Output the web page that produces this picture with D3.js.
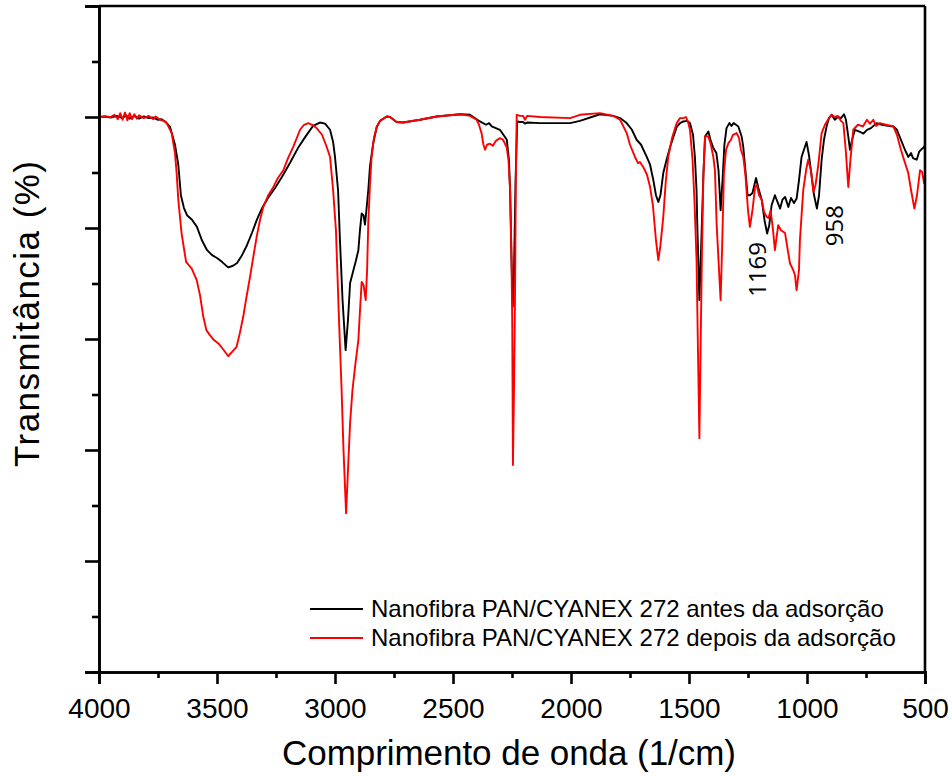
<!DOCTYPE html>
<html>
<head>
<meta charset="utf-8">
<script src="https://cdn.jsdelivr.net/npm/d3@7"></script>
<style>
  html, body { margin: 0; padding: 0; background: #fff; }
  svg { display: block; }
</style>
</head>
<body>
<svg id="chart" width="952" height="778"></svg>
<script>
// FTIR spectra: wavenumber (1/cm) vs transmittance (%)
const antes = [
[4000,100.0],[3975,100.1],[3950,99.9],[3925,100.2],[3900,99.8],[3885,100.3],[3870,99.7],[3850,100.2],[3830,99.7],[3810,100.1],[3790,99.8],[3770,99.9],[3750,99.5],[3735,99.6],[3720,99.2],[3699,98.2],[3678,95.0],[3664,91.4],[3653,85.9],[3640,83.6],[3627,82.3],[3606,81.5],[3585,80.2],[3564,77.8],[3542,76.0],[3521,75.1],[3500,74.6],[3479,73.9],[3453,72.9],[3432,73.2],[3415,73.7],[3394,75.1],[3373,76.9],[3352,79.1],[3331,81.5],[3309,83.6],[3284,85.4],[3254,87.2],[3225,89.2],[3191,91.7],[3157,94.4],[3123,96.6],[3093,98.4],[3064,99.0],[3042,98.8],[3021,97.7],[3008,95.5],[3000,92.8],[2987,86.8],[2979,77.8],[2968,67.0],[2955,58.0],[2945,63.4],[2936,70.1],[2922,72.4],[2911,74.2],[2901,76.0],[2894,79.7],[2887,82.6],[2879,82.3],[2873,80.6],[2867,83.2],[2859,86.8],[2852,91.0],[2838,95.3],[2823,98.2],[2809,99.3],[2781,100.1],[2767,100.0],[2739,99.1],[2711,99.0],[2640,99.5],[2569,100.1],[2470,100.5],[2428,100.4],[2386,99.2],[2360,98.6],[2347,98.9],[2336,98.3],[2301,97.7],[2272,95.9],[2263,92.3],[2258,86.8],[2252,74.2],[2247,65.8],[2242,70.6],[2235,88.6],[2228,99.2],[2216,99.1],[2203,99.1],[2195,98.8],[2186,99.0],[2131,98.9],[2004,98.9],[1962,99.3],[1877,100.5],[1821,100.2],[1792,99.8],[1764,98.9],[1742,97.7],[1722,95.9],[1703,95.0],[1679,92.8],[1665,91.4],[1651,88.6],[1640,85.9],[1630,84.7],[1621,85.9],[1609,89.9],[1595,92.3],[1580,94.6],[1568,96.2],[1552,98.2],[1538,98.9],[1524,99.2],[1508,99.3],[1496,98.9],[1483,96.8],[1475,92.8],[1468,86.8],[1465,80.8],[1460,73.3],[1456,67.0],[1451,73.3],[1445,81.4],[1439,89.6],[1432,96.5],[1418,97.4],[1409,95.9],[1397,94.4],[1384,93.5],[1375,90.4],[1366,83.2],[1358,88.6],[1350,95.0],[1341,98.0],[1329,98.9],[1320,98.4],[1311,98.9],[1301,98.6],[1291,98.3],[1277,96.5],[1270,94.6],[1261,90.4],[1252,85.9],[1242,85.9],[1231,86.3],[1216,89.0],[1206,87.2],[1192,85.1],[1180,81.4],[1169,79.0],[1160,80.5],[1150,84.1],[1136,85.9],[1125,84.7],[1114,83.5],[1104,85.1],[1093,85.6],[1079,83.8],[1068,85.4],[1055,84.5],[1044,85.3],[1034,88.6],[1023,92.8],[1013,94.1],[1002,95.5],[992,93.2],[980,89.2],[970,85.9],[958,83.5],[949,85.9],[938,92.3],[928,95.9],[917,98.3],[907,99.8],[896,100.4],[882,99.5],[869,100.0],[856,99.8],[843,100.5],[835,99.5],[826,96.8],[818,94.1],[809,95.9],[797,97.7],[775,97.3],[761,97.0],[746,97.7],[729,98.0],[705,98.9],[682,98.6],[657,98.4],[634,98.3],[619,97.7],[602,95.9],[585,94.1],[571,92.8],[559,93.5],[551,92.6],[535,92.3],[525,93.7],[517,94.1],[504,94.6],[500,95.0]
];

const depois = [
[4000,100.0],[3975,100.1],[3950,100.0],[3935,100.4],[3920,99.6],[3910,100.7],[3900,99.5],[3890,100.8],[3880,99.4],[3870,100.7],[3860,99.6],[3850,100.5],[3840,99.7],[3830,100.3],[3810,99.8],[3790,100.2],[3770,99.6],[3760,100.1],[3741,99.5],[3725,99.3],[3713,98.9],[3692,97.1],[3678,93.5],[3671,89.9],[3664,85.1],[3650,79.0],[3631,73.9],[3607,72.7],[3586,70.6],[3572,67.9],[3558,64.0],[3545,61.6],[3530,60.7],[3513,59.8],[3494,59.2],[3475,58.2],[3452,56.9],[3436,57.7],[3417,58.6],[3403,61.1],[3389,64.0],[3375,67.6],[3360,71.2],[3345,75.1],[3332,78.4],[3318,81.4],[3304,83.8],[3284,85.8],[3261,87.4],[3242,89.0],[3219,90.4],[3199,92.6],[3177,94.6],[3148,97.7],[3131,98.6],[3113,98.9],[3097,98.6],[3078,98.0],[3055,96.8],[3035,94.6],[3021,92.8],[3008,86.8],[2996,79.6],[2983,63.4],[2972,50.8],[2964,40.0],[2953,28.6],[2945,36.4],[2936,44.9],[2926,50.8],[2915,55.0],[2901,59.8],[2894,65.2],[2887,70.3],[2879,69.7],[2870,67.0],[2864,72.4],[2859,80.9],[2852,87.7],[2845,92.8],[2835,96.2],[2823,98.3],[2809,99.3],[2781,100.1],[2767,100.0],[2754,99.6],[2739,99.1],[2711,99.0],[2640,99.5],[2569,100.1],[2470,100.5],[2428,100.2],[2400,99.5],[2390,98.6],[2379,97.1],[2371,95.0],[2364,94.1],[2356,95.0],[2343,95.2],[2331,94.8],[2318,95.7],[2301,96.2],[2288,95.9],[2273,94.6],[2265,92.3],[2258,86.8],[2252,74.2],[2249,62.9],[2246,37.3],[2241,52.6],[2237,68.8],[2234,86.8],[2230,100.4],[2216,100.2],[2203,100.2],[2195,99.5],[2186,100.2],[2131,100.0],[2004,99.8],[1962,100.4],[1877,100.7],[1821,100.2],[1792,99.5],[1764,97.1],[1750,95.0],[1729,92.8],[1716,91.7],[1708,91.9],[1694,91.0],[1678,89.6],[1665,87.4],[1653,84.1],[1640,77.8],[1630,74.2],[1621,76.9],[1609,82.0],[1598,88.6],[1588,92.8],[1572,96.2],[1552,98.9],[1538,99.8],[1524,99.8],[1513,100.0],[1504,99.1],[1496,97.7],[1485,92.3],[1477,85.1],[1468,74.2],[1462,58.0],[1456,42.1],[1451,58.0],[1445,76.0],[1439,89.6],[1432,96.5],[1418,96.5],[1407,95.0],[1397,92.8],[1390,90.4],[1383,80.8],[1375,74.2],[1366,67.0],[1360,76.0],[1352,89.9],[1343,94.1],[1333,95.3],[1322,95.9],[1314,96.8],[1298,97.1],[1288,96.2],[1280,94.1],[1270,92.8],[1261,89.6],[1250,83.2],[1242,80.2],[1231,83.2],[1220,87.4],[1213,87.7],[1203,85.9],[1192,85.1],[1182,82.9],[1171,82.0],[1163,81.8],[1154,83.2],[1144,79.6],[1136,76.0],[1122,80.5],[1110,79.6],[1093,79.1],[1085,76.9],[1072,73.6],[1058,72.4],[1051,71.5],[1044,68.8],[1034,72.4],[1030,77.8],[1016,86.8],[1004,90.4],[995,92.3],[983,90.4],[973,86.5],[964,87.7],[952,91.4],[938,97.1],[924,98.6],[911,99.5],[896,100.4],[882,100.0],[869,100.2],[856,99.3],[846,98.9],[836,94.1],[825,87.4],[816,92.3],[804,97.7],[784,98.6],[763,98.3],[746,99.5],[733,98.8],[719,99.5],[708,98.4],[691,98.9],[665,98.6],[634,98.3],[619,96.8],[602,94.1],[589,92.3],[571,89.9],[559,86.8],[545,83.5],[534,85.9],[521,90.4],[512,90.1],[504,88.1],[500,88.6]
];

const seriesNames = [
  "Nanofibra PAN/CYANEX 272 antes da adsorção",
  "Nanofibra PAN/CYANEX 272 depois da adsorção"
];
const seriesColors = ["#000000", "#ff0000"];

const xMajorTicks = [4000, 3500, 3000, 2500, 2000, 1500, 1000, 500];
const xMinorTicks = [3750, 3250, 2750, 2250, 1750, 1250, 750];
const yMajorTicks = [0, 20, 40, 60, 80, 100, 120];
const yMinorTicks = [10, 30, 50, 70, 90, 110];

// band positions marked on the "antes" spectrum
const peakBands = [1169, 958];

const margin = { top: 6, right: 27, bottom: 106, left: 99 };
const W = 952, H = 778;
const iw = W - margin.left - margin.right;
const ih = H - margin.top - margin.bottom;

const svg = d3.select("#chart");
const g = svg.append("g").attr("transform", `translate(${margin.left},${margin.top})`);

const x = d3.scaleLinear().domain([4000, 500]).range([0, iw]);
const y = d3.scaleLinear().domain([0, 120]).range([ih, 0]);

const line = d3.line().x(d => x(d[0])).y(d => y(d[1]));

const arial = "'Liberation Sans', Arial, sans-serif";
const labelFont = "'Open Sans', 'Noto Sans', sans-serif";

// spectra
[antes, depois].forEach((data, i) => {
  g.append("path")
    .datum(data)
    .attr("fill", "none")
    .attr("stroke", seriesColors[i])
    .attr("stroke-width", 1.9)
    .attr("stroke-linejoin", "round")
    .attr("d", line);
});

// frame (top and right)
g.append("line").attr("x1", 0).attr("x2", iw).attr("y1", 0).attr("y2", 0)
  .attr("stroke", "#000").attr("stroke-width", 2.6);
g.append("line").attr("x1", iw).attr("x2", iw).attr("y1", 0).attr("y2", ih)
  .attr("stroke", "#000").attr("stroke-width", 2.6);

// x axis
const xAxisMajor = g.append("g").attr("transform", `translate(0,${ih})`)
  .call(d3.axisBottom(x).tickValues(xMajorTicks).tickSize(12).tickPadding(14).tickFormat(d3.format("d")));
const xAxisMinor = g.append("g").attr("transform", `translate(0,${ih})`)
  .call(d3.axisBottom(x).tickValues(xMinorTicks).tickSize(6).tickFormat(""));

// y axis
const yAxisMajor = g.append("g")
  .call(d3.axisLeft(y).tickValues(yMajorTicks).tickSize(14).tickFormat(""));
const yAxisMinor = g.append("g")
  .call(d3.axisLeft(y).tickValues(yMinorTicks).tickSize(7).tickFormat(""));

[xAxisMajor, xAxisMinor, yAxisMajor, yAxisMinor].forEach(a => {
  a.select(".domain").attr("stroke", "#000").attr("stroke-width", 2.6);
  a.selectAll(".tick line").attr("stroke", "#000").attr("stroke-width", 2.6);
});
xAxisMajor.selectAll(".tick text")
  .attr("font-family", arial).attr("font-size", 28).attr("fill", "#000");

// axis titles
svg.append("text")
  .attr("x", 509).attr("y", 765)
  .attr("text-anchor", "middle")
  .attr("font-family", arial).attr("font-size", 35).attr("fill", "#000")
  .attr("textLength", 454).attr("lengthAdjust", "spacing")
  .text("Comprimento de onda (1/cm)");

svg.append("text")
  .attr("transform", "translate(39,314) rotate(-90)")
  .attr("text-anchor", "middle")
  .attr("font-family", arial).attr("font-size", 35).attr("fill", "#000")
  .attr("textLength", 306).attr("lengthAdjust", "spacing")
  .text("Transmitância (%)");

// band annotations, placed beside the minimum of the "antes" curve
const labelOffsets = [[-10, 36], [17, 17]];
peakBands.forEach((wn, i) => {
  const pt = antes.find(d => d[0] === wn);
  const [dx, dy] = labelOffsets[i];
  g.append("text")
    .attr("transform", `translate(${x(pt[0]) + dx},${y(pt[1]) + dy}) rotate(-90)`)
    .attr("text-anchor", "middle")
    .attr("dy", "0.36em")
    .attr("font-family", labelFont).attr("font-size", 24).attr("fill", "#000")
    .text(String(wn));
});

// legend
const legend = svg.append("g").attr("transform", "translate(310,609)");
seriesNames.forEach((name, i) => {
  const row = legend.append("g").attr("transform", `translate(0,${i * 29})`);
  row.append("line").attr("x1", 0).attr("x2", 53).attr("y1", 0).attr("y2", 0)
    .attr("stroke", seriesColors[i]).attr("stroke-width", 1.8);
  row.append("text").attr("x", 61).attr("y", 0).attr("dy", "0.35em")
    .attr("font-family", arial).attr("font-size", 24).attr("fill", "#000")
    .text(name);
});
</script>
</body>
</html>
